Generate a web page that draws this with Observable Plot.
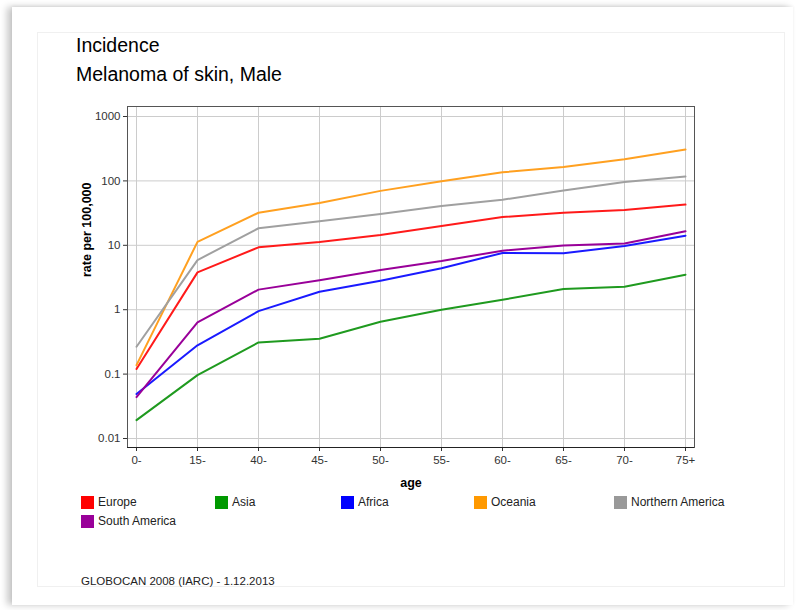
<!DOCTYPE html>
<html>
<head>
<meta charset="utf-8">
<script src="https://cdn.jsdelivr.net/npm/d3@7"></script>
<script src="https://cdn.jsdelivr.net/npm/@observablehq/plot@0.6"></script>
<style>
  html, body { margin: 0; padding: 0; background: #fff; }
  body { width: 798px; height: 610px; position: relative; overflow: hidden; font-family: "Liberation Sans", Arial, sans-serif; }
  #outer { position: absolute; left: 12px; top: 7px; width: 781px; height: 598px; background: #fff;
           box-shadow: -5px 0 7px rgba(0,0,0,0.22), 0 -1px 3px rgba(0,0,0,0.06); }
  #card { position: absolute; left: 37px; top: 32px; width: 746px; height: 553px; border: 1px solid #f0f0f0; background: #fff; }
  .title { position: absolute; left: 76px; font-size: 19.5px; color: #000; white-space: nowrap; }
  #chart { position: absolute; left: 0; top: 95px; }
  .leg { position: absolute; font-size: 12px; color: #222; white-space: nowrap; }
  .sw { position: absolute; width: 13px; height: 13px; }
  #caption { position: absolute; left: 81px; top: 575px; font-size: 11.5px; color: #222; }
</style>
</head>
<body>
<div id="outer"></div>
<div id="card"></div>
<div class="title" style="top:34px">Incidence</div>
<div class="title" style="top:63px">Melanoma of skin, Male</div>
<div id="chart"></div>
<div id="legend"></div>
<div id="caption">GLOBOCAN 2008 (IARC) - 1.12.2013</div>
<script>
const ages = ["0-", "15-", "40-", "45-", "50-", "55-", "60-", "65-", "70-", "75+"];
const regions = ["Europe", "Asia", "Africa", "Oceania", "Northern America", "South America"];
const colors = ["#ff0000", "#009900", "#0000ff", "#ff9900", "#999999", "#990099"];
const lineColors = ["#ff1a1a", "#1f9a1f", "#1a1aff", "#ffa020", "#a0a0a0", "#990099"];

const europe   = [0.12, 3.8, 9.3, 11.3, 14.5, 20, 27.5, 32, 35.4, 42.9];
const asia     = [0.0193, 0.0965, 0.31, 0.354, 0.65, 1.0, 1.43, 2.09, 2.28, 3.5];
const africa   = [0.049, 0.28, 0.95, 1.9, 2.82, 4.39, 7.6, 7.5, 9.77, 14.1];
const oceania  = [0.138, 11.3, 32, 45.5, 70, 99, 136, 165, 217, 307];
const northAm  = [0.266, 5.9, 18.4, 23.6, 30.7, 40.9, 51, 70.8, 96, 117];
const southAm  = [0.044, 0.635, 2.05, 2.86, 4.14, 5.7, 8.26, 9.9, 10.7, 16.5];

const yTicks = [0.01, 0.1, 1, 10, 100, 1000];

const series = [europe, asia, africa, oceania, northAm, southAm];
const data = [];
series.forEach((vals, i) => vals.forEach((v, j) => data.push({region: regions[i], age: ages[j], value: v})));

const chart = Plot.plot({
  width: 798,
  height: 400,
  marginLeft: 127,
  marginRight: 104,
  marginTop: 11,
  marginBottom: 48,
  style: {fontFamily: "'Liberation Sans', Arial, sans-serif", fontSize: "11px", color: "#333", background: "transparent"},
  x: {type: "point", domain: ages, padding: 0.147, label: null, tickSize: 4},
  y: {type: "log", domain: [0.00725, 1430], ticks: yTicks, tickFormat: d => String(d), label: null, tickSize: 4},
  color: {domain: regions, range: lineColors},
  marks: [
    Plot.gridX(ages, {stroke: "#cccccc", strokeOpacity: 1}),
    Plot.gridY(yTicks, {stroke: "#cccccc", strokeOpacity: 1}),
    Plot.frame({stroke: "#555", strokeWidth: 1}),
    Plot.line(data, {x: "age", y: "value", z: "region", stroke: "region", strokeWidth: 2}),
    Plot.axisX({tickSize: 4, tickPadding: 4, fill: "#333", stroke: "#333", fontSize: 11.5}),
    Plot.axisY({ticks: yTicks, tickFormat: d => String(d), tickSize: 4, tickPadding: 3, fill: "#333", fontSize: 11.5}),
    Plot.ruleY([0.00725], {stroke: "#222"}),
    Plot.text(["age"], {frameAnchor: "bottom", dy: 39, fontWeight: "bold", fontSize: 12.5, fill: "#000"}),
    Plot.text(["rate per 100,000"], {frameAnchor: "left", dx: -41, rotate: -90, fontWeight: "bold", fontSize: 12.5, fill: "#000"})
  ]
});
document.getElementById("chart").appendChild(chart);

// legend
const legPos = [[81, 496], [215, 496], [341, 496], [474, 496], [614, 496], [81, 515]];
const leg = document.getElementById("legend");
regions.forEach((r, i) => {
  const [x, y] = legPos[i];
  const sw = document.createElement("div");
  sw.className = "sw";
  sw.style.left = x + "px"; sw.style.top = y + "px"; sw.style.background = colors[i];
  leg.appendChild(sw);
  const t = document.createElement("div");
  t.className = "leg";
  t.style.left = (x + 17) + "px"; t.style.top = (y - 1) + "px";
  t.textContent = r;
  leg.appendChild(t);
});
</script>
</body>
</html>
